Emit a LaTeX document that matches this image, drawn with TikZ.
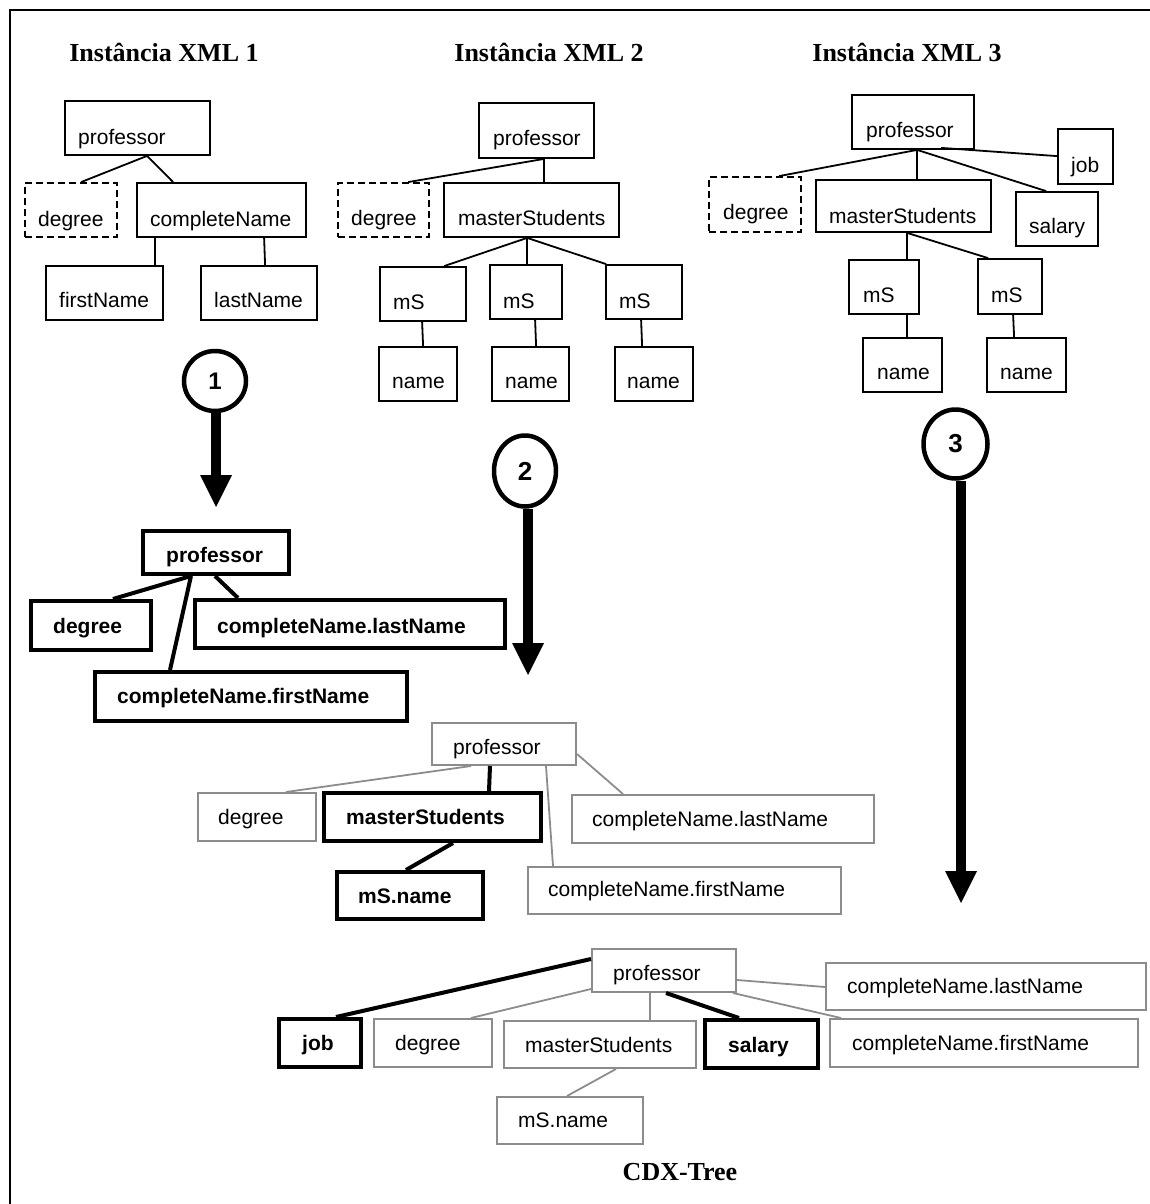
\documentclass[tikz,border=0pt]{standalone}
\usepackage{fontspec}
\setmainfont{Liberation Serif}
\setsansfont{Liberation Sans}
\usetikzlibrary{fit,arrows.meta,shapes.geometric}
\definecolor{boxgray}{RGB}{140,140,140}
\tikzset{
  box/.style={draw, line width=1.8pt, inner sep=0pt},
  dbox/.style={box, dash pattern=on 7pt off 4pt},
  bbox/.style={draw, line width=4pt, inner sep=0pt},
  gbox/.style={draw=boxgray, line width=2pt, inner sep=0pt},
  box-t/.style={inner sep=0pt, font=\sffamily\fontsize{21}{25}\selectfont},
  dbox-t/.style={box-t},
  gbox-t/.style={box-t},
  bbox-t/.style={inner sep=0pt, font=\sffamily\bfseries\fontsize{21}{25}\selectfont},
  ln/.style={line width=1.8pt},
  bln/.style={line width=4pt},
  gln/.style={draw=boxgray, line width=1.8pt},
  title/.style={anchor=base, inner sep=0pt, font=\bfseries\fontsize{26}{30}\selectfont},
  numc/.style={ellipse, draw, line width=4.5pt, inner sep=0pt,
    font=\sffamily\bfseries\fontsize{26}{30}\selectfont},
  bigarrow/.style={line width=10pt,
    -{Triangle[width=32pt,length=32pt,line width=0pt]}},
}
% box: style, name, x1, y1, x2, y2, text x, text baseline, text
\newcommand\tbox[9]{%
  \node[#1, fit={(#3,#4)(#5,#6)}] (#2) {};
  \node[#1-t, anchor=base west] (#2-t) at (#7,#8) {#9};}
\begin{document}
\begin{tikzpicture}[x=1pt, y=-1pt]
\useasboundingbox (0,0) rectangle (1150,1204);
% frame
\draw[line width=2pt] (10,1204) -- (10,10) -- (1150,10);

% titles
\node[title] (h1) at (164,62) {Instância XML 1};
\node[title] (h2) at (549,62) {Instância XML 2};
\node[title] (h3) at (907,62) {Instância XML 3};
\node[title] (h4) at (680,1180) {CDX-Tree};

% ---- instance 1
\tbox{box}{p1}{65}{101}{210}{155}{78}{144}{professor}
\tbox{dbox}{d1}{25}{183}{117}{237}{38}{226}{degree}
\tbox{box}{c1}{137}{183}{306}{237}{150}{226}{completeName}
\tbox{box}{f1}{46}{266}{163}{320}{59}{307}{firstName}
\tbox{box}{l1}{201}{266}{317}{320}{214}{307}{lastName}
\draw[ln] ([xshift=83pt]p1.south west) -- ([xshift=57pt]d1.north west);
\draw[ln] ([xshift=83pt]p1.south west) -- ([xshift=37pt]c1.north west);
\draw[ln] ([xshift=19pt]c1.south west) -- ([xshift=110pt]f1.north west);
\draw[ln] ([xshift=128pt]c1.south west) -- ([xshift=65pt]l1.north west);

% ---- instance 2
\tbox{box}{p2}{479}{103}{594}{158}{493}{146}{professor}
\tbox{dbox}{d2}{338}{183}{429}{237}{351}{225}{degree}
\tbox{box}{m2}{444}{183}{619}{237}{458}{225}{masterStudents}
\tbox{box}{sa}{380}{267}{466}{321}{393}{309}{mS}
\tbox{box}{sb}{490}{265}{562}{319}{503}{308}{mS}
\tbox{box}{sc}{606}{265}{682}{319}{619}{308}{mS}
\tbox{box}{na}{379}{347}{457}{401}{392}{388}{name}
\tbox{box}{nb}{492}{347}{569}{401}{505}{388}{name}
\tbox{box}{nc}{615}{347}{693}{401}{627}{388}{name}
\draw[ln] ([xshift=66pt]p2.south west) -- ([xshift=71pt]d2.north west);
\draw[ln] ([xshift=66pt]p2.south west) -- ([xshift=101pt]m2.north west);
\draw[ln] ([xshift=84pt]m2.south west) -- ([xshift=65pt]sa.north west);
\draw[ln] ([xshift=84pt]m2.south west) -- ([xshift=38pt]sb.north west);
\draw[ln] ([xshift=84pt]m2.south west) -- ([xshift=1pt]sc.north west);
\draw[ln] ([xshift=43pt]sa.south west) -- ([xshift=45pt]na.north west);
\draw[ln] ([xshift=46pt]sb.south west) -- ([xshift=45pt]nb.north west);
\draw[ln] ([xshift=36pt]sc.south west) -- ([xshift=28pt]nc.north west);

% ---- instance 3
\tbox{box}{p3}{852}{95}{974}{149}{866}{138}{professor}
\tbox{box}{jb}{1058}{129}{1113}{184}{1071}{172}{job}
\tbox{dbox}{d3}{709}{177}{801}{232}{723}{219}{degree}
\tbox{box}{m3}{816}{180}{991}{232}{829}{223}{masterStudents}
\tbox{box}{sl}{1016}{192}{1098}{246}{1029}{233}{salary}
\tbox{box}{ta}{849}{260}{919}{314}{863}{302}{mS}
\tbox{box}{tb}{978}{259}{1042}{314}{991}{302}{mS}
\tbox{box}{ua}{863}{338}{942}{392}{877}{379}{name}
\tbox{box}{ub}{987}{338}{1066}{392}{1000}{379}{name}
\draw[ln] ([xshift=66pt]p3.south west) -- ([xshift=71pt]d3.north west);
\draw[ln] ([xshift=66pt]p3.south west) -- ([xshift=102pt]m3.north west);
\draw[ln] ([xshift=66pt]p3.south west) -- ([xshift=31pt]sl.north west);
\draw[ln] ([xshift=90pt,yshift=2pt]p3.south west) -- ([yshift=-28pt]jb.north west);
\draw[ln] ([xshift=92pt]m3.south west) -- ([xshift=59pt]ta.north west);
\draw[ln] ([xshift=92pt]m3.south west) -- ([xshift=11pt]tb.north west);
\draw[ln] ([xshift=59pt]ta.south west) -- ([xshift=45pt]ua.north west);
\draw[ln] ([xshift=36pt]tb.south west) -- ([xshift=28pt]ub.north west);

% ---- step arrows
\node[numc, minimum width=62pt, minimum height=60pt,
      font=\sffamily\bfseries\fontsize{24}{28}\selectfont] (k1) at (215,381) {1};
\coordinate (t1) at (216,507);
\draw[bigarrow] (t1 |- k1.south) -- (t1);
\node[numc, minimum width=62pt, minimum height=71pt] (k2) at (525,471) {2};
\coordinate (t2) at (528,675);
\draw[bigarrow] (t2 |- k2.south) -- (t2);
\node[numc, minimum width=64pt, minimum height=69pt] (k3) at (955.5,444) {3};
\coordinate (t3) at (961,903);
\draw[bigarrow] (t3 |- k3.south) -- (t3);

% ---- tree after instance 1
\tbox{bbox}{rp1}{143}{531}{289}{574}{166}{562}{professor}
\tbox{bbox}{rd1}{31}{601}{151}{650}{53}{633}{degree}
\tbox{bbox}{rl1}{195}{600}{505}{648}{217}{633}{completeName.lastName}
\tbox{bbox}{rf1}{95}{672}{407}{721}{117}{703}{completeName.firstName}
\draw[bln] ([xshift=50pt]rp1.south west) -- ([xshift=84pt]rd1.north west);
\draw[bln] ([xshift=50pt]rp1.south west) -- ([xshift=77pt]rf1.north west);
\draw[bln] ([xshift=74pt]rp1.south west) -- ([xshift=45pt]rl1.north west);

% ---- tree after instance 2
\tbox{gbox}{gp2}{432}{723}{576}{765}{453}{754}{professor}
\tbox{gbox}{gd2}{198}{793}{316}{841}{218}{824}{degree}
\tbox{bbox}{bm2}{324}{793}{541}{841}{346}{824}{masterStudents}
\tbox{gbox}{gl2}{572}{795}{874}{843}{592}{826}{completeName.lastName}
\tbox{gbox}{gf2}{528}{867}{841}{914}{548}{896}{completeName.firstName}
\tbox{bbox}{bn2}{337}{872}{483}{919}{358}{903}{mS.name}
\draw[gln] ([xshift=40pt]gp2.south west) -- ([xshift=89pt]gd2.north west);
\draw[bln] ([xshift=59pt]gp2.south west) -- ([xshift=167pt]bm2.north west);
\draw[gln] ([xshift=115pt]gp2.south west) -- ([xshift=26pt]gf2.north west);
\draw[gln] ([yshift=-32pt]gp2.north east) -- ([xshift=52pt]gl2.north west);
\draw[bln] ([xshift=131pt]bm2.south west) -- ([xshift=71pt]bn2.north west);

% ---- CDX-Tree
\tbox{gbox}{gp3}{592}{949}{736}{992}{613}{980}{professor}
\tbox{bbox}{bj3}{279}{1019}{361}{1067}{302}{1050}{job}
\tbox{gbox}{gd3}{374}{1019}{492}{1067}{395}{1050}{degree}
\tbox{gbox}{gm3}{504}{1021}{696}{1068}{525}{1052}{masterStudents}
\tbox{bbox}{bs3}{705}{1020}{818}{1068}{728}{1052}{salary}
\tbox{gbox}{gl3}{826}{963}{1146}{1010}{847}{993}{completeName.lastName}
\tbox{gbox}{gf3}{830}{1019}{1138}{1067}{852}{1050}{completeName.firstName}
\tbox{gbox}{gn3}{497}{1097}{643}{1144}{518}{1127}{mS.name}
\draw[bln] ([yshift=-11pt]gp3.north west) -- ([xshift=59pt]bj3.north west);
\draw[gln] ([yshift=4pt]gp3.south west) -- ([xshift=98pt]gd3.north west);
\draw[gln] ([xshift=59pt]gp3.south west) -- ([xshift=147pt]gm3.north west);
\draw[bln] ([xshift=75pt]gp3.south west) -- ([xshift=36pt]bs3.north west);
\draw[gln] ([yshift=-32pt]gp3.north east) -- ([yshift=-25pt]gl3.north west);
\draw[gln] ([xshift=-4pt]gp3.south east) -- ([xshift=12pt]gf3.north west);
\draw[gln] ([xshift=113pt]gm3.south west) -- ([xshift=71pt]gn3.north west);
\end{tikzpicture}
\end{document}
